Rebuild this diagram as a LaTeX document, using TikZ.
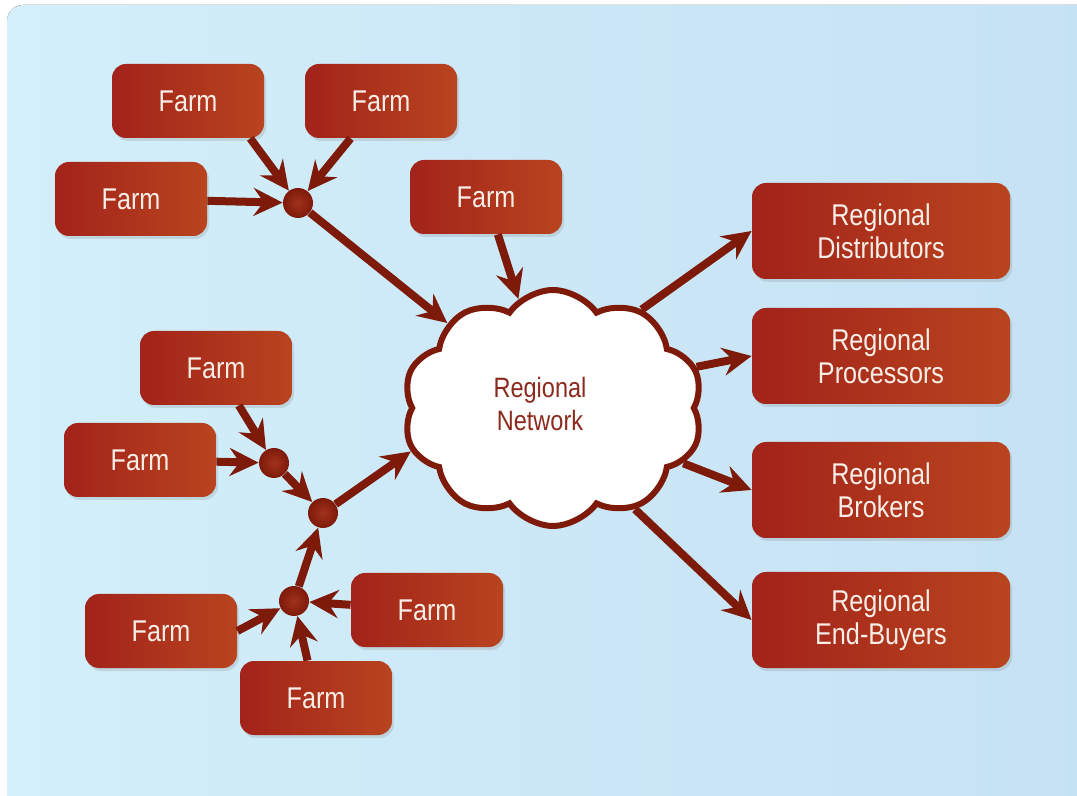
\documentclass[tikz,border=0pt]{standalone}
\usepackage{fontspec}
\setmainfont{Liberation Sans}[FakeStretch=0.84]
\usepackage{xcolor}
\usetikzlibrary{positioning, arrows.meta, shapes.symbols, shadows}
\definecolor{farmleft}{HTML}{A2231A}
\definecolor{farmright}{HTML}{B9441F}
\definecolor{linkred}{HTML}{7E1A0A}
\definecolor{hubred}{HTML}{A1321C}
\definecolor{skyleft}{HTML}{D3EFFA}
\definecolor{skyright}{HTML}{C5E1F4}
\definecolor{labelwhite}{HTML}{F8EEE8}
\definecolor{cloudtext}{HTML}{8C2A1E}

\tikzset{
  farm/.style={rounded corners=7pt, left color=farmleft, right color=farmright,
    text=labelwhite, minimum width=76pt, minimum height=37pt,
    font=\fontsize{15}{16.5}\selectfont,
    drop shadow={opacity=0.22, shadow xshift=1pt, shadow yshift=-1.5pt}},
  buyer/.style={farm, minimum width=129pt, minimum height=48pt, align=center},
  hub/.style={circle, inner sep=0pt, minimum size=15pt,
    inner color=hubred, outer color=linkred},
  link/.style={linkred, line width=4pt,
    -{Stealth[length=14.5pt, width=14pt, inset=5pt]}},
}

\begin{document}
\begin{tikzpicture}[x=0.5pt, y=-0.5pt]
  \useasboundingbox (0,0) rectangle (1077,796);
  \fill[left color=skyleft, right color=skyright, rounded corners=8pt]
    (7,5) rectangle (1100,815);

  % farms feeding the network
  \node[farm] (f1) at (188,101) {Farm};
  \node[farm] (f2) at (381,101) {Farm};
  \node[farm] (f3) at (131,199) {Farm};
  \node[farm] (f4) at (486,197) {Farm};
  \node[farm] (f5) at (216,368) {Farm};
  \node[farm] (f6) at (140,460) {Farm};
  \node[farm] (f7) at (161,631) {Farm};
  \node[farm] (f8) at (427,610) {Farm};
  \node[farm] (f9) at (316,698) {Farm};

  % aggregation points
  \node[hub] (j1) at (298,203) {};
  \node[hub] (j2) at (274,463) {};
  \node[hub] (j3) at (323,513) {};
  \node[hub] (j4) at (294,601) {};

  \node[cloud, cloud puffs=10, cloud puff arc=110, cloud ignores aspect,
        minimum width=150pt, minimum height=118pt, fill=white,
        draw=linkred, line width=3pt,
        label={[text=cloudtext, align=center, xshift=-6.5pt, yshift=2pt,
                font=\fontsize{14}{16.5}\selectfont]center:Regional\\Network}]
        (net) at (553,408) {};

  % buyers
  \node[buyer] (r1) at (881,231) {Regional\\Distributors};
  \node[buyer] (r2) at (881,356) {Regional\\Processors};
  \node[buyer] (r3) at (881,490) {Regional\\Brokers};
  \node[buyer] (r4) at (881,620) {Regional\\End-Buyers};

  \draw[link] (f1.-31) -- (j1);
  \draw[link] (f2) -- (j1);
  \draw[link] (f3) -- (j1);
  \draw[link] (j1) -- (net);
  \draw[link] (f4) -- (net);
  \draw[link] (f5) -- (j2);
  \draw[link] (f6) -- (j2);
  \draw[link] (j2) -- (j3);
  \draw[link] (j3) -- (net.197);
  \draw[link] (f7.east) -- (j4);
  \draw[link] (f8) -- (j4);
  \draw[link] (f9) -- (j4);
  \draw[link] (j4) -- (j3);

  \draw[link] (net.48) -- (r1.west);
  \draw[link] (net.16) -- (r2.west);
  \draw[link] (net.-23) -- (r3.west);
  \draw[link] (net.-51) -- (r4.west);
\end{tikzpicture}
\end{document}
